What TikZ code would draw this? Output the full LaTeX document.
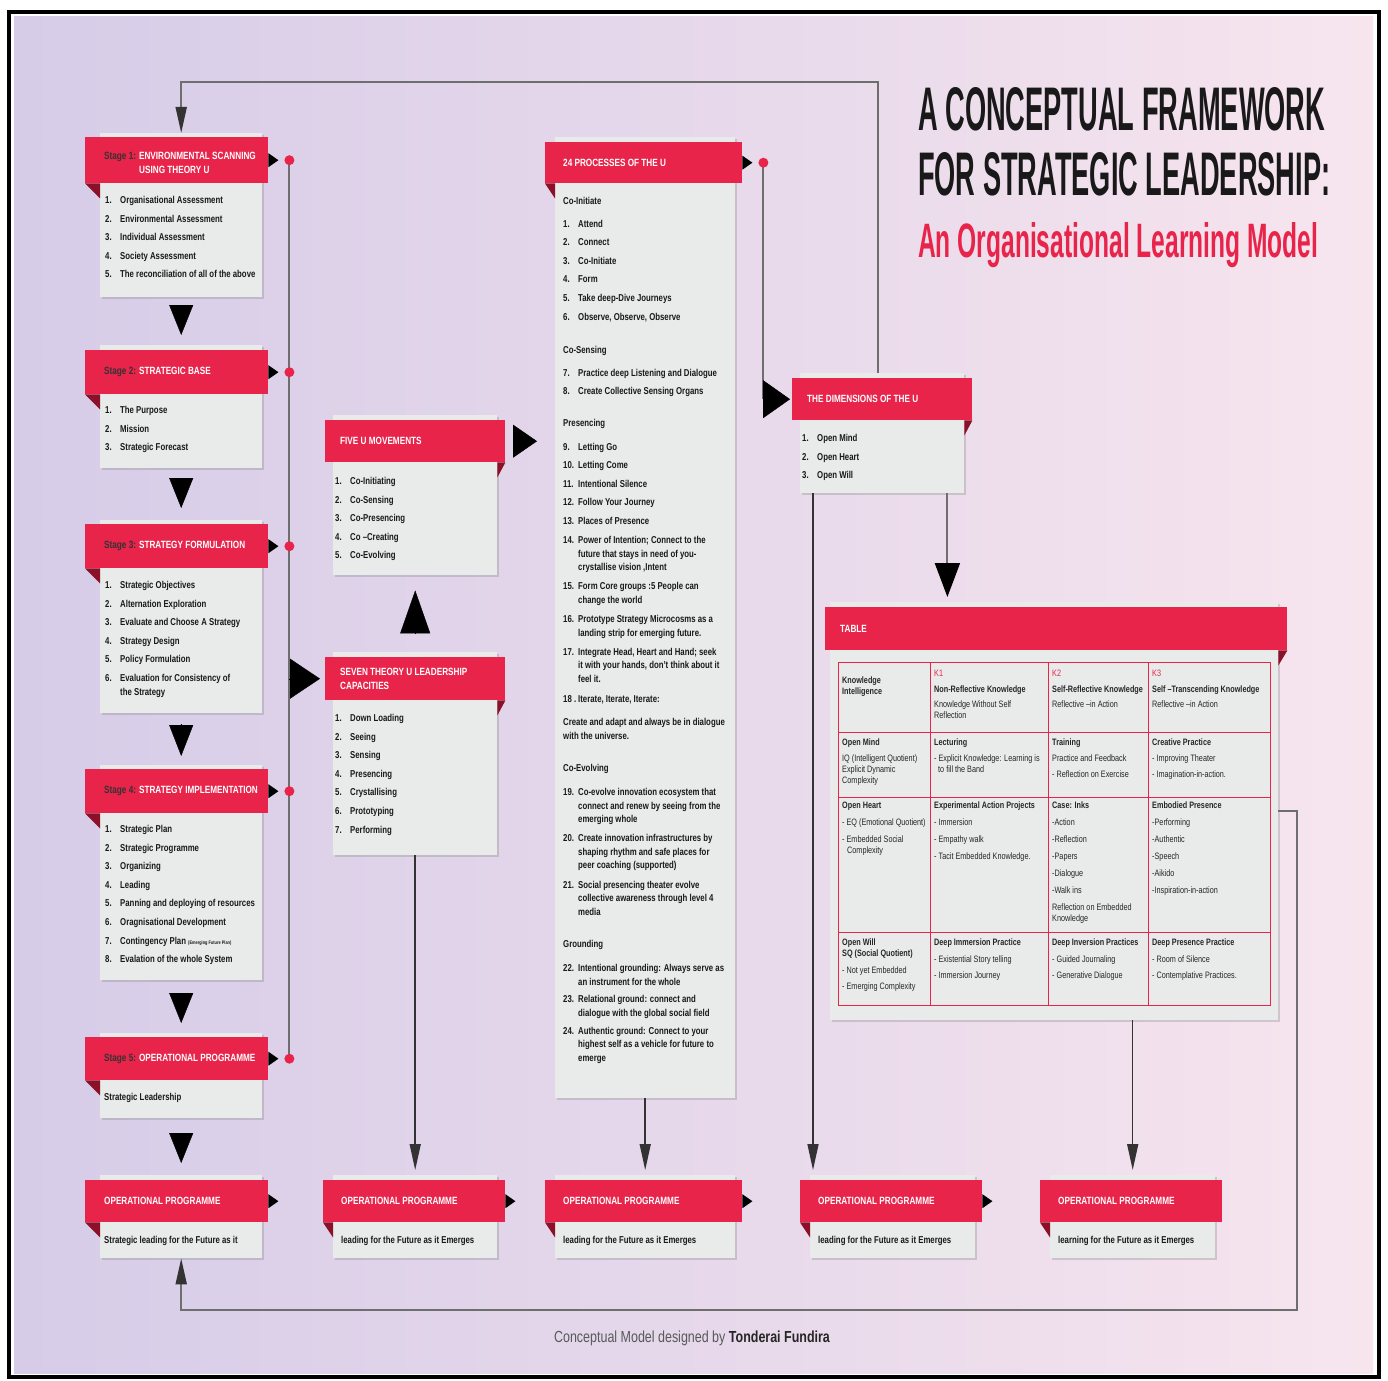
\documentclass[tikz,border=0pt]{standalone}
\usepackage{fontspec}
\setmainfont{Liberation Sans}[FakeStretch=0.78]
\usepackage{graphicx}
\usetikzlibrary{arrows.meta,shadows,positioning}

\definecolor{ured}{RGB}{232,36,74}
\definecolor{ufold}{RGB}{140,16,40}
\definecolor{ugray}{RGB}{233,234,234}
\definecolor{bgL}{RGB}{214,204,232}
\definecolor{bgR}{RGB}{247,229,238}
\definecolor{lgray}{RGB}{110,110,110}

\newcommand\itm[2]{\makebox[15pt][l]{#1}#2}
\newcommand\cnt[1]{\hspace*{15pt}#1}
\newcommand\stg[1]{{\color{black!80}Stage #1:} }
\newcommand\tipR[1]{\fill[black] (#1) ++(0,-7) -- ++(10,7) -- ++(-10,7) -- cycle;}
\newcommand\foldL[2][15]{\fill[ufold] (#2.south west) -- ++(#1,0) -- ++(0,15) -- cycle;}
\newcommand\foldR[2][8]{\fill[ufold] (#2.south east) -- ++(-#1,0) -- ++(0,15) -- cycle;}

\tikzset{
  card/.style={fill=ugray, anchor=north west, inner sep=0pt,
    drop shadow={shadow xshift=1.5pt, shadow yshift=-2pt, opacity=0.3}},
  banner/.style={fill=ured, anchor=north west, inner sep=0pt},
  htext/.style={anchor=west, inner sep=0pt, align=left, text=white,
    font=\bfseries\fontsize{10.5}{14}\selectfont},
  items/.style={anchor=north west, inner sep=0pt, align=left, text=black!90,
    font=\bfseries\fontsize{10}{13.6}\selectfont},
  cell/.style={anchor=north west, inner sep=0pt, align=left, text=black!85,
    font=\fontsize{9.3}{11}\selectfont},
  bigtip/.style 2 args={line width=0.4pt, -{Triangle[length=#1pt,width=#2pt]}},
  flow/.style={draw=black!80, line width=1.5pt, -{Triangle[length=26pt,width=11pt]}},
  uline/.style={draw=lgray, line width=2pt},
  tgrid/.style={draw=ured, line width=0.9pt},
}

\begin{document}
\begin{tikzpicture}[x=1pt,y=-1pt]
\useasboundingbox (0,0) rectangle (1388,1380);
\fill[white] (0,0) rectangle (1388,1380);
\shade[left color=bgL, right color=bgR] (14,17) rectangle (1373,1373);
\draw[line width=3.5pt] (9,12) rectangle (1379,1377);

% title
\node[anchor=base west, inner sep=0pt, text=black!90] (title1) at (918,131) {\resizebox{407pt}{43pt}{\bfseries A CONCEPTUAL FRAMEWORK}};
\node[anchor=base west, inner sep=0pt, text=black!90] (title2) at (918,196) {\resizebox{412pt}{43pt}{\bfseries FOR STRATEGIC LEADERSHIP:}};
\node[anchor=base west, inner sep=0pt, text=ured] (title3) at (918,257) {\resizebox{400pt}{35pt}{\bfseries An Organisational Learning Model}};

% left column
\node[card, minimum width=162pt, minimum height=164pt] (s1) at (100,133) {};
\node[card, minimum width=162pt, minimum height=123pt] (s2) at (100,345) {};
\node[card, minimum width=162pt, minimum height=193pt] (s3) at (100,520) {};
\node[card, minimum width=162pt, minimum height=215pt] (s4) at (100,765) {};
\node[card, minimum width=162pt, minimum height=85pt] (s5) at (100,1033) {};
% middle and right
\node[card, minimum width=164pt, minimum height=160pt] (five) at (333,415) {};
\node[card, minimum width=164pt, minimum height=203pt] (sev) at (333,652) {};
\node[card, minimum width=180pt, minimum height=961pt] (p24) at (555,137) {};
\node[card, minimum width=164pt, minimum height=120pt] (dim) at (800,373) {};
\node[card, minimum width=448pt, minimum height=418pt] (tab) at (830,602) {};
% bottom row
\node[card, minimum width=162pt, minimum height=83pt] (op1) at (100,1175) {};
\node[card, minimum width=164pt, minimum height=83pt] (op2) at (333,1175) {};
\node[card, minimum width=180pt, minimum height=83pt] (op3) at (555,1175) {};
\node[card, minimum width=165pt, minimum height=83pt] (op4) at (810,1175) {};
\node[card, minimum width=165pt, minimum height=83pt] (op5) at (1050,1175) {};

% feedback loops
\draw[uline, -{Triangle[length=26pt,width=11pt,color=black!80]}] ([xshift=-4pt]dim.north) -- ++(0,-291) -| (s1.north);
\draw[uline, -{Triangle[length=26pt,width=11pt,color=black!80]}] (tab.east) -- ++(19,0) -- ++(0,499) -| (op1.south);

% banners
\node[banner, minimum width=183pt, minimum height=46pt] (s1h) at (85,137) {};
\node[banner, minimum width=183pt, minimum height=44pt] (s2h) at (85,350) {};
\node[banner, minimum width=183pt, minimum height=44pt] (s3h) at (85,524) {};
\node[banner, minimum width=183pt, minimum height=44pt] (s4h) at (85,769) {};
\node[banner, minimum width=183pt, minimum height=43pt] (s5h) at (85,1037) {};
\node[banner, minimum width=180pt, minimum height=42pt] (fiveh) at (325,420) {};
\node[banner, minimum width=180pt, minimum height=43pt] (sevh) at (325,657) {};
\node[banner, minimum width=197pt, minimum height=41pt] (p24h) at (545,142) {};
\node[banner, minimum width=180pt, minimum height=42pt] (dimh) at (792,378) {};
\node[banner, minimum width=462pt, minimum height=43pt] (tabh) at (825,607) {};
\node[banner, minimum width=183pt, minimum height=42pt] (op1h) at (85,1180) {};
\node[banner, minimum width=182pt, minimum height=42pt] (op2h) at (323,1180) {};
\node[banner, minimum width=197pt, minimum height=42pt] (op3h) at (545,1180) {};
\node[banner, minimum width=182pt, minimum height=42pt] (op4h) at (800,1180) {};
\node[banner, minimum width=182pt, minimum height=42pt] (op5h) at (1040,1180) {};

\foldL{s1h} \foldL{s2h} \foldL{s3h} \foldL{s4h} \foldL{s5h}
\foldL[10]{p24h}
\foldR{fiveh} \foldR{sevh} \foldR{dimh} \foldR[9]{tabh}
\foldL{op1h} \foldL[10]{op2h} \foldL[10]{op3h} \foldL[10]{op4h} \foldL[10]{op5h}

\tipR{s1h.east} \tipR{s2h.east} \tipR{s3h.east} \tipR{s4h.east} \tipR{s5h.east}
\tipR{p24h.east}
\tipR{op1h.east} \tipR{op2h.east} \tipR{op3h.east} \tipR{op4h.east}

% banner labels
\node[htext] (s1l) at ([xshift=19pt,yshift=-3pt]s1h.west) {\stg{1}ENVIRONMENTAL SCANNING\\\hspace*{35pt}USING THEORY U};
\node[htext] (s2l) at ([xshift=19pt]s2h.west) {\stg{2}STRATEGIC BASE};
\node[htext] (s3l) at ([xshift=19pt]s3h.west) {\stg{3}STRATEGY FORMULATION};
\node[htext] (s4l) at ([xshift=19pt]s4h.west) {\stg{4}STRATEGY IMPLEMENTATION};
\node[htext] (s5l) at ([xshift=19pt]s5h.west) {\stg{5}OPERATIONAL PROGRAMME};
\node[htext] (fivel) at ([xshift=15pt]fiveh.west) {FIVE U MOVEMENTS};
\node[htext] (sevl) at ([xshift=15pt]sevh.west) {SEVEN THEORY U LEADERSHIP\\CAPACITIES};
\node[htext] (p24l) at ([xshift=18pt]p24h.west) {24 PROCESSES OF THE U};
\node[htext] (diml) at ([xshift=15pt]dimh.west) {THE DIMENSIONS OF THE U};
\node[htext] (tabl) at ([xshift=15pt]tabh.west) {TABLE};
\node[htext] (op1l) at ([xshift=19pt]op1h.west) {OPERATIONAL PROGRAMME};
\node[htext] (op2l) at ([xshift=18pt]op2h.west) {OPERATIONAL PROGRAMME};
\node[htext] (op3l) at ([xshift=18pt]op3h.west) {OPERATIONAL PROGRAMME};
\node[htext] (op4l) at ([xshift=18pt]op4h.west) {OPERATIONAL PROGRAMME};
\node[htext] (op5l) at ([xshift=18pt]op5h.west) {OPERATIONAL PROGRAMME};

% card texts
\node[items] (s1t) at (105,196) {\itm{1.}{Organisational Assessment}\\[5pt]
  \itm{2.}{Environmental Assessment}\\[5pt]
  \itm{3.}{Individual Assessment}\\[5pt]
  \itm{4.}{Society Assessment}\\[5pt]
  \itm{5.}{The reconciliation of all of the above}};
\node[items] (s2t) at (105,406) {\itm{1.}{The Purpose}\\[5pt]
  \itm{2.}{Mission}\\[5pt]
  \itm{3.}{Strategic Forecast}};
\node[items] (s3t) at (105,581) {\itm{1.}{Strategic Objectives}\\[5pt]
  \itm{2.}{Alternation Exploration}\\[5pt]
  \itm{3.}{Evaluate and Choose  A Strategy}\\[5pt]
  \itm{4.}{Strategy Design}\\[5pt]
  \itm{5.}{Policy Formulation}\\[5pt]
  \itm{6.}{Evaluation for Consistency of}\\
  \cnt{the Strategy}};
\node[items] (s4t) at (105,825) {\itm{1.}{Strategic Plan}\\[5pt]
  \itm{2.}{Strategic Programme}\\[5pt]
  \itm{3.}{Organizing}\\[5pt]
  \itm{4.}{Leading}\\[5pt]
  \itm{5.}{Panning and deploying of resources}\\[5pt]
  \itm{6.}{Oragnisational Development}\\[5pt]
  \itm{7.}{Contingency Plan {\fontsize{5}{6}\selectfont (Emerging Future Plan)}}\\[5pt]
  \itm{8.}{Evalation of the whole System}};
\node[items, anchor=west] (s5t) at (104,1098) {Strategic Leadership};
\node[items] (fivet) at (335,477) {\itm{1.}{Co-Initiating}\\[5pt]
  \itm{2.}{Co-Sensing}\\[5pt]
  \itm{3.}{Co-Presencing}\\[5pt]
  \itm{4.}{Co --Creating}\\[5pt]
  \itm{5.}{Co-Evolving}};
\node[items] (sevt) at (335,714) {\itm{1.}{Down Loading}\\[5pt]
  \itm{2.}{Seeing}\\[5pt]
  \itm{3.}{Sensing}\\[5pt]
  \itm{4.}{Presencing}\\[5pt]
  \itm{5.}{Crystallising}\\[5pt]
  \itm{6.}{Prototyping}\\[5pt]
  \itm{7.}{Performing}};
\node[items] (dimt) at (802,434) {\itm{1.}{Open Mind}\\[5pt]
  \itm{2.}{Open Heart}\\[5pt]
  \itm{3.}{Open Will}};
\node[items] (p24t) at (563,197) {Co-Initiate\\[9pt]
  \itm{1.}{Attend}\\[5pt]
  \itm{2.}{Connect}\\[5pt]
  \itm{3.}{Co-Initiate}\\[5pt]
  \itm{4.}{Form}\\[5pt]
  \itm{5.}{Take deep-Dive Journeys}\\[5pt]
  \itm{6.}{Observe, Observe, Observe}\\[20pt]
  Co-Sensing\\[9pt]
  \itm{7.}{Practice deep Listening and Dialogue}\\[5pt]
  \itm{8.}{Create Collective Sensing Organs}\\[18pt]
  Presencing\\[10pt]
  \itm{9.}{Letting Go}\\[5pt]
  \itm{10.}{Letting Come}\\[5pt]
  \itm{11.}{Intentional Silence}\\[5pt]
  \itm{12.}{Follow Your Journey}\\[5pt]
  \itm{13.}{Places of Presence}\\[5.5pt]
  \itm{14.}{Power of Intention; Connect to the}\\
  \cnt{future that stays in need of you-}\\
  \cnt{crystallise vision ,Intent}\\[5.5pt]
  \itm{15.}{Form Core groups :5 People can}\\
  \cnt{change the world}\\[5.5pt]
  \itm{16.}{Prototype Strategy Microcosms as a}\\
  \cnt{landing strip for emerging future.}\\[5.5pt]
  \itm{17.}{Integrate Head, Heart and Hand; seek}\\
  \cnt{it with your hands, don't think about it}\\
  \cnt{feel it.}\\[6pt]
  \itm{18 .}{Iterate, Iterate, Iterate:}\\[10pt]
  Create and adapt and always be in dialogue\\
  with the universe.\\[19pt]
  Co-Evolving\\[10pt]
  \itm{19.}{Co-evolve innovation ecosystem that}\\
  \cnt{connect and renew by seeing from the}\\
  \cnt{emerging whole}\\[5.5pt]
  \itm{20.}{Create innovation infrastructures by}\\
  \cnt{shaping rhythm and safe places for}\\
  \cnt{peer coaching (supported)}\\[5.5pt]
  \itm{21.}{Social presencing theater evolve}\\
  \cnt{collective awareness through level 4}\\
  \cnt{media}\\[18.5pt]
  Grounding\\[10.5pt]
  \itm{22.}{Intentional grounding: Always serve as}\\
  \cnt{an instrument for the whole}\\[4pt]
  \itm{23.}{Relational ground: connect and}\\
  \cnt{dialogue with the global social field}\\[4.5pt]
  \itm{24.}{Authentic ground: Connect to your}\\
  \cnt{highest self as a vehicle for future to}\\
  \cnt{emerge}};
\node[items, anchor=west] (op1t) at (104,1241) {Strategic leading for the Future as it};
\node[items, anchor=west] (op2t) at (341,1241) {leading for the Future as it Emerges};
\node[items, anchor=west] (op3t) at (563,1241) {leading for the Future as it Emerges};
\node[items, anchor=west] (op4t) at (818,1241) {leading for the Future as it Emerges};
\node[items, anchor=west] (op5t) at (1058,1241) {learning for the Future as it Emerges};

% table
\draw[tgrid] (838,662) rectangle (1270,1005);
\draw[tgrid] (930,662) -- (930,1005) (1048,662) -- (1048,1005) (1148,662) -- (1148,1005);
\draw[tgrid] (838,732) -- (1270,732) (838,797) -- (1270,797) (838,932) -- (1270,932);
\node[cell] (c11) at (842,677) {\textbf{Knowledge}\\\textbf{Intelligence}};
\node[cell] (c12) at (934,670) {{\color{ured}K1}\\[4.5pt]\textbf{Non-Reflective Knowledge}\\[4.5pt]Knowledge Without Self\\Reflection};
\node[cell] (c13) at (1052,670) {{\color{ured}K2}\\[4.5pt]\textbf{Self-Reflective Knowledge}\\[4.5pt]Reflective --in Action};
\node[cell] (c14) at (1152,670) {{\color{ured}K3}\\[4.5pt]\textbf{Self --Transcending Knowledge}\\[4.5pt]Reflective --in Action};
\node[cell] (c21) at (842,739) {\textbf{Open Mind}\\[4.5pt]IQ (Intelligent Quotient)\\Explicit Dynamic\\Complexity};
\node[cell] (c22) at (934,739) {\textbf{Lecturing}\\[4.5pt]- Explicit Knowledge: Learning is\\\hspace*{4pt}to fill the Band};
\node[cell] (c23) at (1052,739) {\textbf{Training}\\[4.5pt]Practice and Feedback\\[5.5pt]- Reflection on Exercise};
\node[cell] (c24) at (1152,739) {\textbf{Creative Practice}\\[4.5pt]- Improving Theater\\[5.5pt]- Imagination-in-action.};
\node[cell] (c31) at (842,802) {\textbf{Open Heart}\\[6pt]- EQ (Emotional Quotient)\\[6pt]- Embedded Social\\\hspace*{5pt}Complexity};
\node[cell] (c32) at (934,802) {\textbf{Experimental Action Projects}\\[6pt]- Immersion\\[6pt]- Empathy walk\\[6pt]- Tacit Embedded Knowledge.};
\node[cell] (c33) at (1052,802) {\textbf{Case: Inks}\\[6pt]-Action\\[6pt]-Reflection\\[6pt]-Papers\\[6pt]-Dialogue\\[6pt]-Walk ins\\[6pt]Reflection on Embedded\\Knowledge};
\node[cell] (c34) at (1152,802) {\textbf{Embodied Presence}\\[6pt]-Performing\\[6pt]-Authentic\\[6pt]-Speech\\[6pt]-Aikido\\[6pt]-Inspiration-in-action};
\node[cell] (c41) at (842,939) {\textbf{Open Will}\\\textbf{SQ (Social Quotient)}\\[5.5pt]- Not yet Embedded\\[5.5pt]- Emerging Complexity};
\node[cell] (c42) at (934,939) {\textbf{Deep Immersion Practice}\\[5.5pt]- Existential Story telling\\[5.5pt]- Immersion Journey};
\node[cell] (c43) at (1052,939) {\textbf{Deep Inversion Practices}\\[5.5pt]- Guided Journaling\\[5.5pt]- Generative Dialogue};
\node[cell] (c44) at (1152,939) {\textbf{Deep Presence Practice}\\[5.5pt]- Room of Silence\\[5.5pt]- Contemplative Practices.};

% stage line with dots
\coordinate (d1) at ([xshift=21pt]s1h.east);
\coordinate (d2) at ([xshift=21pt]s2h.east);
\coordinate (d3) at ([xshift=21pt]s3h.east);
\coordinate (d4) at ([xshift=21pt]s4h.east);
\coordinate (d5) at ([xshift=21pt]s5h.east);
\coordinate (d24) at ([xshift=21pt]p24h.east);
\draw[uline] (d1) -- (d5);
\draw[uline] (d24) -- (d24 |- dimh.west);
\foreach \d in {d1,d2,d3,d4,d5,d24} \fill[ured] (\d) circle (5pt);

% big arrows
\draw[bigtip={30}{24}, shorten <=8pt, shorten >=10pt] (s1) -- (s2);
\draw[bigtip={30}{24}, shorten <=10pt, shorten >=12pt] (s2) -- (s3);
\draw[bigtip={31}{24}, shorten <=11pt, shorten >=9pt] (s3) -- (s4);
\draw[bigtip={30}{24}, shorten <=13pt, shorten >=10pt] (s4) -- (s5);
\draw[bigtip={30}{24}, shorten <=15pt, shorten >=12pt] (s5) -- (op1);
\draw[bigtip={30}{40}, shorten >=5pt] (d1 |- sevh.west) -- (sevh.west);
\draw[bigtip={43}{30}, shorten <=19pt, shorten >=15pt] (sev) -- (five);
\draw[bigtip={24}{33}, shorten <=8pt, shorten >=18pt] (fiveh.east) -- (fiveh.east -| p24.west);
\draw[bigtip={27}{38}, shorten >=2pt] (d24 |- dimh.west) -- (dimh.west);
\draw[uline, -{Triangle[length=34pt,width=25pt,color=black]}, shorten >=5pt] ([xshift=-17pt]dim.south east) -- ([xshift=-17pt]dim.south east |- tab.north);

% flows to the bottom row
\draw[flow, shorten >=5pt] (sev.south) -- (op2.north);
\draw[flow, shorten >=5pt] (p24.south) -- (op3.north);
\draw[flow, shorten >=5pt] ([xshift=13pt]dim.south west) -- ([xshift=13pt]dim.south west |- op4.north);
\draw[flow, shorten >=5pt] (op5.north |- tab.south) -- (op5.north);

\node[font=\fontsize{16}{18}\selectfont, text=black!65] (credit) at (692,1338) {Conceptual Model designed by \textbf{\color{black!85}Tonderai Fundira}};
\end{tikzpicture}
\end{document}
